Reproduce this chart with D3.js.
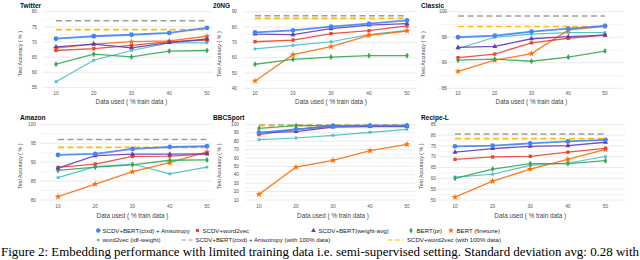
<!DOCTYPE html>
<html><head><meta charset="utf-8">
<script src="https://cdn.jsdelivr.net/npm/d3@7"></script>
<style>body{margin:0;background:#fff} svg{display:block}</style>
</head><body><svg id="c" width="640" height="260"></svg>
<script>
const xValues = [10, 20, 30, 40, 50];
const seriesNames = ["SCDV+BERT(ctxd) + Anisotropy", "SCDV+word2vec", "SCDV+BERT(weight-avg)", "BERT(pr)", "BERT (finetune)", "word2vec (idf-weight)"];
const fullDataNames = ["SCDV+BERT(ctxd) + Anisotropy (with 100% data)", "SCDV+word2vec (with 100% data)"];
const datasetNames = ["Twitter", "20NG", "Classic", "Amazon", "BBCSport", "Recipe-L"];

// rows follow seriesNames order
const twitterValues = [
  [71.1, 71.9, 72.4, 73.0, 74.7],
  [67.2, 67.8, 68.9, 70.1, 70.6],
  [68.4, 69.3, 68.1, 69.8, 71.0],
  [62.7, 66.0, 65.1, 67.0, 67.2],
  [68.0, 69.3, 70.1, 70.4, 71.9],
  [56.9, 64.0, 67.2, 69.7, 69.7]];
const twitterFull = [77.0, 74.1];
const twitterTicks = [55, 60, 65, 70, 75, 80];

const ngValues = [
  [76.5, 77.8, 80.2, 82.2, 84.3],
  [70.4, 71.5, 75.7, 77.6, 80.7],
  [75.4, 75.0, 78.9, 81.3, 82.2],
  [55.7, 58.9, 60.4, 61.3, 61.3],
  [44.8, 62.0, 67.2, 74.6, 77.4],
  [65.7, 68.0, 70.4, 75.0, 77.8]];
const ngFull = [87.4, 85.7];
const ngTicks = [40, 50, 60, 70, 80, 90];

const classicValues = [
  [95.0, 95.3, 96.1, 96.7, 97.2],
  [91.0, 91.7, 93.9, 94.8, 95.4],
  [93.0, 93.2, 94.7, 95.1, 95.4],
  [90.5, 90.7, 90.3, 91.1, 92.3],
  [88.3, 90.5, 91.8, 96.4, 97.2],
  [92.8, 95.0, 95.6, 95.9, 95.9]];
const classicFull = [99.15, 97.1];
const classicTicks = [85, 90, 95, 100];

const amazonValues = [
  [91.9, 92.2, 93.5, 94.0, 94.2],
  [88.6, 89.5, 91.5, 91.6, 92.2],
  [88.4, 91.7, 92.1, 92.1, 92.2],
  [87.8, 88.7, 89.3, 90.5, 90.6],
  [80.9, 84.2, 87.5, 89.9, 92.7],
  [85.9, 88.8, 89.5, 86.9, 88.7]];
const amazonFull = [96.0, 93.9];
const amazonTicks = [80, 85, 90, 95, 100];

const bbcValues = [
  [90.1, 94.0, 98.0, 98.4, 98.4],
  [87.7, 94.0, 98.0, 97.6, 98.0],
  [90.0, 91.3, 96.8, 97.2, 97.2],
  [95.2, 98.4, 98.4, 98.4, 98.8],
  [16.7, 49.2, 57.1, 68.7, 76.2],
  [81.7, 83.7, 86.9, 90.5, 94.0]];
const bbcFull = [99.2, 98.4];
const bbcTicks = [10, 20, 30, 40, 50, 60, 70, 80, 90, 100];

const recipeValues = [
  [74.8, 75.1, 76.2, 77.1, 77.8],
  [68.8, 69.9, 70.2, 72.1, 73.9],
  [72.1, 73.8, 74.8, 75.1, 76.7],
  [60.0, 64.3, 66.8, 66.8, 68.2],
  [51.3, 58.7, 64.3, 68.8, 73.4],
  [60.6, 61.9, 66.0, 67.1, 70.1]];
const recipeFull = [80.5, 78.4];
const recipeTicks = [50, 55, 60, 65, 70, 75, 80, 85];

const captionText = "Figure 2: Embedding performance with limited training data i.e. semi-supervised setting. Standard deviation avg: 0.28 with";

const allValues = [twitterValues, ngValues, classicValues, amazonValues, bbcValues, recipeValues];
const allFull = [twitterFull, ngFull, classicFull, amazonFull, bbcFull, recipeFull];
const allTicks = [twitterTicks, ngTicks, classicTicks, amazonTicks, bbcTicks, recipeTicks];

// styling
const colors = ["#4285F4", "#EA4335", "#673AB7", "#34A853", "#FF6D01", "#46BDC6"];
const fullColors = ["#9E9E9E", "#FBBC04"];
const symbols = [d3.symbolCircle, d3.symbolSquare, d3.symbolTriangle, d3.symbolDiamond, d3.symbolStar, d3.symbolCross];
const symSize = [18, 11, 11, 11, 14, 7];
const symRot = [0, 0, 0, 0, 0, 45];
const lineW = [1.8, 1.3, 1.3, 1.3, 1.3, 1.2];
const drawOrder = [5, 4, 3, 1, 2, 0];

const layouts = [
  {gx0: 43, gx1: 213, x0: 56, x1: 207, yTop: 11.7, yBot: 87.5, tickX: 37, yTitleX: 20.5, titleX: 20, titleY: 7.5, xTickY: 95, xTitleY: 104},
  {gx0: 243, gx1: 417, x0: 255, x1: 407, yTop: 11.7, yBot: 88.3, tickX: 237, yTitleX: 219, titleX: 213, titleY: 7.5, xTickY: 95, xTitleY: 104},
  {gx0: 438, gx1: 623, x0: 458, x1: 605, yTop: 11.7, yBot: 88.3, tickX: 447, yTitleX: 423, titleX: 421, titleY: 7.5, xTickY: 95, xTitleY: 104},
  {gx0: 40, gx1: 213, x0: 58, x1: 207, yTop: 124.3, yBot: 200, tickX: 36, yTitleX: 20.5, titleX: 20, titleY: 119.5, xTickY: 207.5, xTitleY: 217.5},
  {gx0: 245, gx1: 415, x0: 259, x1: 407, yTop: 124.3, yBot: 200, tickX: 239, yTitleX: 219, titleX: 213, titleY: 119.5, xTickY: 207.5, xTitleY: 217.5},
  {gx0: 437, gx1: 625, x0: 455, x1: 605.5, yTop: 124.3, yBot: 200, tickX: 436, yTitleX: 421.5, titleX: 421, titleY: 119.5, xTickY: 207.5, xTitleY: 217.5}
];

const svg = d3.select("#c");
const font = "Arial, 'Liberation Sans', sans-serif";

layouts.forEach((L, i) => {
  const ticks = allTicks[i];
  const g = svg.append("g");
  const x = d3.scaleLinear().domain([10, 50]).range([L.x0, L.x1]);
  const y = d3.scaleLinear().domain(d3.extent(ticks)).range([L.yBot, L.yTop]);
  const step = ticks[1] - ticks[0];
  const minor = ticks.slice(0, -1).map(t => t + step / 2);

  g.selectAll("line.minor").data(minor).join("line")
    .attr("x1", L.gx0).attr("x2", L.gx1)
    .attr("y1", d => y(d)).attr("y2", d => y(d))
    .attr("stroke", "#f2f2f2").attr("stroke-width", 0.8);
  g.selectAll("line.major").data(ticks).join("line")
    .attr("x1", L.gx0).attr("x2", L.gx1)
    .attr("y1", d => y(d)).attr("y2", d => y(d))
    .attr("stroke", "#e4e4e4").attr("stroke-width", 0.8);

  g.selectAll("text.yt").data(ticks).join("text")
    .attr("x", L.tickX).attr("y", d => y(d)).attr("dy", "0.35em")
    .attr("text-anchor", "end").attr("font-family", font).attr("font-size", 4.8)
    .attr("fill", "#555").text(d => d);
  g.selectAll("text.xt").data(xValues).join("text")
    .attr("x", d => x(d)).attr("y", L.xTickY)
    .attr("text-anchor", "middle").attr("font-family", font).attr("font-size", 4.8)
    .attr("fill", "#555").text(d => d);

  g.append("text").attr("x", L.titleX).attr("y", L.titleY)
    .attr("font-family", font).attr("font-size", 6.6).attr("font-weight", "bold")
    .attr("fill", "#111").text(datasetNames[i]);
  g.append("text").attr("x", (L.x0 + L.x1) / 2).attr("y", L.xTitleY)
    .attr("text-anchor", "middle").attr("font-family", font).attr("font-size", 6.3)
    .attr("fill", "#444").text("Data used ( % train data )");
  const cy = (L.yTop + L.yBot) / 2 + 4;
  g.append("text").attr("transform", `translate(${L.yTitleX},${cy}) rotate(-90)`)
    .attr("dy", "0.35em").attr("text-anchor", "middle").attr("font-family", font).attr("font-size", 5.3)
    .attr("fill", "#444").text("Test Accuracy ( % )");

  // 100% data reference lines
  allFull[i].forEach((v, k) => {
    g.append("line").attr("x1", x(10)).attr("x2", x(50))
      .attr("y1", y(v)).attr("y2", y(v))
      .attr("stroke", fullColors[k]).attr("stroke-width", k === 0 ? 1.4 : 1.7)
      .attr("stroke-dasharray", "6,3.5");
  });

  const line = d3.line().x((d, j) => x(xValues[j])).y(d => y(d));
  drawOrder.forEach(s => {
    const vals = allValues[i][s];
    g.append("path").attr("d", line(vals)).attr("fill", "none")
      .attr("stroke", colors[s]).attr("stroke-width", lineW[s]).attr("stroke-opacity", 0.9);
    g.selectAll(null).data(vals).join("path")
      .attr("d", d3.symbol().type(symbols[s]).size(symSize[s]))
      .attr("transform", (d, j) => `translate(${x(xValues[j])},${y(d)}) rotate(${symRot[s]})`)
      .attr("fill", colors[s]);
  });
});

// legend
const legendRow1 = [{s: 0, sx: 98.3, tx: 102.5}, {s: 1, sx: 197.5, tx: 202.5}, {s: 2, sx: 313.5, tx: 318.5}, {s: 3, sx: 411, tx: 416.5}, {s: 4, sx: 451, tx: 456.5}];
const lg = svg.append("g");
legendRow1.forEach(it => {
  lg.append("path").attr("d", d3.symbol().type(symbols[it.s]).size(symSize[it.s] * 0.9))
    .attr("transform", `translate(${it.sx},230.5)`).attr("fill", colors[it.s]);
  lg.append("text").attr("x", it.tx).attr("y", 230.5).attr("dy", "0.35em")
    .attr("font-family", font).attr("font-size", 6.1).attr("fill", "#222").text(seriesNames[it.s]);
});
lg.append("path").attr("d", d3.symbol().type(symbols[5]).size(6))
  .attr("transform", `translate(98.3,240) rotate(45)`).attr("fill", colors[5]);
lg.append("text").attr("x", 102.5).attr("y", 240).attr("dy", "0.35em")
  .attr("font-family", font).attr("font-size", 6.1).attr("fill", "#222").text(seriesNames[5]);
const dashItems = [{k: 0, x0: 181.5, x1: 192.5, tx: 195.5}, {k: 1, x0: 388, x1: 403, tx: 407}];
dashItems.forEach(it => {
  lg.append("line").attr("x1", it.x0).attr("x2", it.x1).attr("y1", 240).attr("y2", 240)
    .attr("stroke", fullColors[it.k]).attr("stroke-width", 1.2).attr("stroke-dasharray", "4.5,2.5");
  lg.append("text").attr("x", it.tx).attr("y", 240).attr("dy", "0.35em")
    .attr("font-family", font).attr("font-size", 6.1).attr("fill", "#222").text(fullDataNames[it.k]);
});

// caption
svg.append("text").attr("x", 1).attr("y", 256)
  .attr("font-family", "'Liberation Serif', 'Times New Roman', serif").attr("font-size", 12)
  .attr("textLength", 638).attr("lengthAdjust", "spacingAndGlyphs")
  .attr("fill", "#000").text(captionText);
</script></body></html>
